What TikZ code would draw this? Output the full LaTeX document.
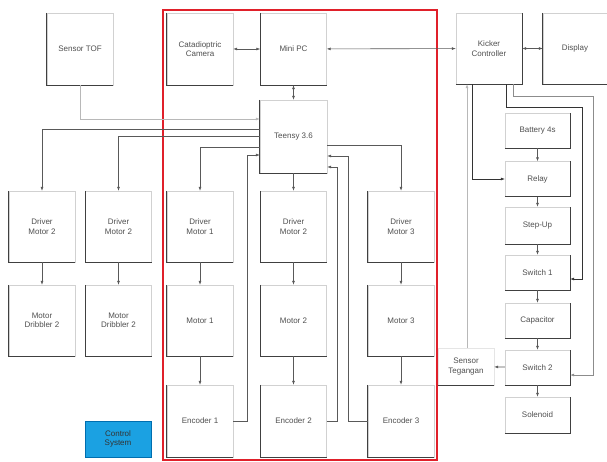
\documentclass[tikz,border=0pt]{standalone}
\usepackage{fontspec}
\setmainfont{Liberation Sans}
\usepackage{tikz}
\usetikzlibrary{arrows.meta}
\definecolor{frame}{HTML}{E0202A}
\definecolor{ctrlblue}{HTML}{1BA1E2}
\definecolor{ctrledge}{HTML}{006EAF}
\definecolor{ink}{HTML}{505050}

\begin{document}
\begin{tikzpicture}[x=1pt,y=-1pt,
      every node/.style={font=\fontsize{8}{9.5}\selectfont,text=ink},
      box/.style={draw=black!18,fill=white,minimum width=66pt,minimum height=72pt,inner sep=0pt,align=center},
      small/.style={box,minimum width=65pt,minimum height=35pt},
      edge/.style={black!75,line width=.8pt},
      link/.style={-{Latex[length=4pt,width=3pt]},black!65,line width=.6pt},
      faint/.style={link,black!28},
      both/.style={{Latex[length=4pt,width=3pt]}-{Latex[length=4pt,width=3pt]},black!65,line width=.6pt}]
      \useasboundingbox (0,0) rectangle (607,462);
      % top row
      \node[box] (tof) at (80,49) {Sensor TOF};
      \node[box] (cam) at (200,49) {Catadioptric\\Camera};
      \node[box] (pc) at (293.5,49) {Mini PC};
      \node[box,minimum height=71pt] (kick) at (489,48.5) {Kicker\\Controller};
      \node[box,minimum width=64pt,minimum height=71pt] (disp) at (575,48.5) {Display};
      \node[box,minimum width=67pt,minimum height=73pt] (teensy) at (293.5,136.5) {Teensy 3.6};
      % motor columns
      \node[box,minimum height=71pt] (drvA) at (42,226.5) {Driver\\Motor 2};
      \node[box,minimum height=71pt] (drvB) at (118.5,226.5) {Driver\\Motor 2};
      \node[box,minimum height=71pt] (drv1) at (200,226.5) {Driver\\Motor 1};
      \node[box,minimum height=71pt] (drv2) at (293.5,226.5) {Driver\\Motor 2};
      \node[box,minimum height=71pt] (drv3) at (401,226.5) {Driver\\Motor 3};
      \node[box,minimum height=71pt] (dribA) at (42,320.5) {Motor\\Dribbler 2};
      \node[box,minimum height=71pt] (dribB) at (118.5,320.5) {Motor\\Dribbler 2};
      \node[box,minimum height=71pt] (mot1) at (200,320.5) {Motor 1};
      \node[box,minimum height=71pt] (mot2) at (293.5,320.5) {Motor 2};
      \node[box,minimum height=71pt] (mot3) at (401,320.5) {Motor 3};
      \node[box] (enc1) at (200,421) {Encoder 1};
      \node[box] (enc2) at (293.5,421) {Encoder 2};
      \node[box] (enc3) at (401,421) {Encoder 3};
      \node[box,fill=ctrlblue,draw=ctrledge,minimum height=36pt,text=black!80] (ctrl) at (118,439) {Control\\System};
      % kicker column
      \node[small] (batt) at (537.5,130.5) {Battery 4s};
      \node[small] (relay) at (537.5,179) {Relay};
      \node[small,minimum height=37pt] (stepup) at (537.5,225.5) {Step-Up};
      \node[small] (sw1) at (537.5,272.5) {Switch 1};
      \node[small] (cap) at (537.5,320.5) {Capacitor};
      \node[small] (sw2) at (537.5,367.5) {Switch 2};
      \node[small,minimum height=36pt] (sol) at (537.5,415) {Solenoid};
      \node[box,minimum width=56pt,minimum height=37pt,draw=black!10] (teg) at (466,366.5) {Sensor\\Tegangan};
      % darker edges
      \foreach \n in {tof,cam,pc,disp,teensy,drvA,drvB,drv1,drv2,drv3,dribA,dribB,mot1,mot2,mot3,enc1,enc2,enc3}
        \draw[edge] (\n.north west) -- (\n.south west) -- (\n.south east);
      \foreach \n in {kick,batt,relay,stepup,sw1,cap,sw2,sol}
        \draw[edge] (\n.south west) -- (\n.south east) -- (\n.north east);
      \draw[edge] (teg.south west) -- (teg.south east);
      % frame
      \draw[frame,line width=2.5pt] (163,10) rectangle (437,460);
      % links
      \draw[both] (cam) -- (pc);
      \draw[both] (pc) -- (kick);
      \draw[both] (kick) -- (disp);
      \draw[both] (pc) -- (teensy);
      \draw[faint] (tof.south) |- ([yshift=17.5pt]teensy.west);
      \draw[link] ([yshift=7.5pt]teensy.west) -| (drvA.north);
      \draw[link] (teensy.west) -| (drvB.north);
      \draw[link] ([yshift=-10.5pt]teensy.west) -| (drv1.north);
      \draw[link] ([yshift=-8.5pt]teensy.east) -| (drv3.north);
      \draw[link] (teensy) -- (drv2);
      \draw[link] (enc1.east) -- ++(14,0) |- ([yshift=-18.5pt]teensy.west);
      \draw[link] (enc2.east) -- ++(11,0) |- ([yshift=-30.5pt]teensy.east);
      \draw[link] (enc3.west) -- ++(-20,0) |- ([yshift=-19.5pt]teensy.east);
      \foreach \a/\b in {drvA/dribA,drvB/dribB,drv1/mot1,drv2/mot2,drv3/mot3,mot1/enc1,mot2/enc2,mot3/enc3}
        \draw[link] (\a) -- (\b);
      \foreach \a/\b in {batt/relay,relay/stepup,stepup/sw1,sw1/cap,cap/sw2,sw2/sol}
        \draw[link] (\a) -- (\b);
      \draw[link] (sw2) -- (teg);
      \draw[faint] ([xshift=1pt]teg.north) -- ([xshift=1pt]teg.north |- kick.south);
      \draw[link,black!80] ([xshift=-17pt]kick.south) |- (relay.west);
      \draw[link,black!80] ([xshift=17pt]kick.south) |- ++(76,23) |- ([yshift=-6.5pt]sw1.east);
      \draw[link,black!45] ([xshift=24pt]kick.south) |- ++(80,12) |- ([yshift=-7.5pt]sw2.east);
    \end{tikzpicture}
\end{document}
